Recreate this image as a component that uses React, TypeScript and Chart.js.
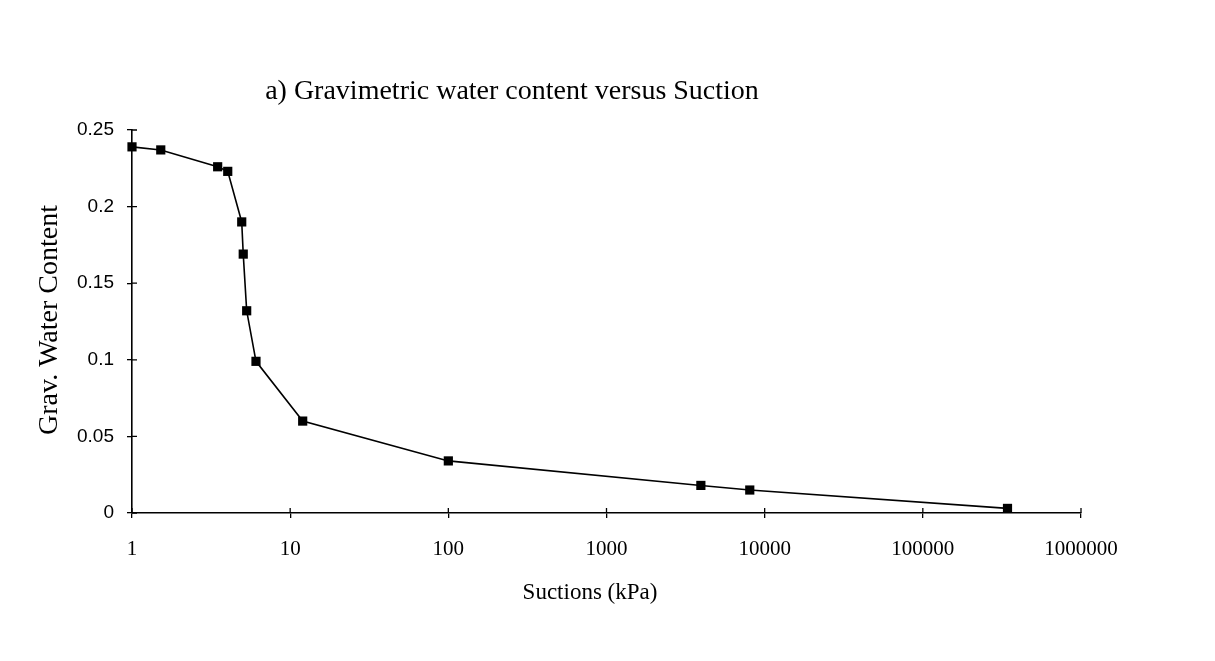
import { useEffect, useRef } from "react";
import { Chart, registerables } from "chart.js";

Chart.register(...registerables);

// Data
const suctionKPa = [1, 1.52, 3.48, 4.03, 4.94, 5.05, 5.31, 6.08, 12, 100, 3950, 8050, 343000];
const gravWaterContent = [0.239, 0.237, 0.226, 0.223, 0.19, 0.169, 0.132, 0.099, 0.06, 0.034, 0.018, 0.015, 0.003];
const xTickValues = [1, 10, 100, 1000, 10000, 100000, 1000000];
const yTickValues = [0, 0.05, 0.1, 0.15, 0.2, 0.25];
const yTickLabels = ["0", "0.05", "0.1", "0.15", "0.2", "0.25"];

const chartTitle = "a) Gravimetric water content versus Suction";
const xTitle = "Suctions (kPa)";
const yTitle = "Grav. Water Content";

const SERIF = "'Liberation Serif', 'Times New Roman', serif";
const SANS = "'Liberation Sans', Arial, sans-serif";

const decorPlugin = {
  id: "decor",
  afterDraw(chart: any) {
    const { ctx, chartArea, scales } = chart;
    ctx.save();
    // inner halves of tick marks
    ctx.strokeStyle = "#000";
    ctx.lineWidth = 1.3;
    ctx.beginPath();
    for (const v of yTickValues) {
      const y = scales.y.getPixelForValue(v);
      ctx.moveTo(chartArea.left, y);
      ctx.lineTo(chartArea.left + 5, y);
    }
    for (const v of xTickValues) {
      const x = scales.x.getPixelForValue(v);
      ctx.moveTo(x, chartArea.bottom);
      ctx.lineTo(x, chartArea.bottom - 5);
    }
    ctx.stroke();

    ctx.fillStyle = "#000";
    ctx.textAlign = "center";
    ctx.textBaseline = "alphabetic";
    ctx.font = `28px ${SERIF}`;
    ctx.fillText(chartTitle, 512, 99);
    ctx.font = `23px ${SERIF}`;
    ctx.fillText(xTitle, 590, 599);
    ctx.translate(57, 320);
    ctx.rotate(-Math.PI / 2);
    ctx.font = `28px ${SERIF}`;
    ctx.fillText(yTitle, 0, 0);
    ctx.restore();
  },
};

export default function App() {
  const ref = useRef<HTMLCanvasElement>(null);

  useEffect(() => {
    const points = suctionKPa.map((x, i) => ({ x, y: gravWaterContent[i] }));
    const chart = new Chart(ref.current as HTMLCanvasElement, {
      type: "scatter",
      data: {
        datasets: [
          {
            data: points,
            showLine: true,
            clip: false,
            borderColor: "#000",
            borderWidth: 1.6,
            backgroundColor: "#000",
            pointStyle: "rect",
            pointRadius: 6.5,
            pointBorderWidth: 0,
            pointBackgroundColor: "#000",
            tension: 0,
          },
        ],
      },
      options: {
        animation: false,
        responsive: false,
        maintainAspectRatio: false,
        layout: { padding: { top: 130, right: 134, bottom: 0, left: 0 } },
        plugins: {
          legend: { display: false },
          title: { display: false },
          tooltip: { enabled: false },
        },
        scales: {
          x: {
            type: "logarithmic",
            min: 1,
            max: 1000000,
            afterBuildTicks: (scale: any) => {
              scale.ticks = xTickValues.map((v) => ({ value: v, major: true }));
            },
            afterFit: (scale: any) => {
              scale.height = 661 - 513;
            },
            ticks: {
              autoSkip: false,
              maxRotation: 0,
              padding: 19,
              color: "#000",
              font: { family: SERIF, size: 21 },
              callback: (v: any) => String(Number(v)),
            },
            grid: { drawOnChartArea: false, drawTicks: true, tickLength: 5, color: "#000", lineWidth: 1.3 },
            border: { display: true, color: "#000", width: 1.6 },
          },
          y: {
            type: "linear",
            min: 0,
            max: 0.25,
            afterBuildTicks: (scale: any) => {
              scale.ticks = yTickValues.map((v) => ({ value: v }));
            },
            afterFit: (scale: any) => {
              scale.width = 132;
            },
            ticks: {
              autoSkip: false,
              padding: 13,
              color: "#000",
              font: { family: SANS, size: 19 },
              callback: (v: any) => {
                const i = yTickValues.findIndex((t) => Math.abs(t - Number(v)) < 1e-9);
                return i >= 0 ? yTickLabels[i] : "";
              },
            },
            grid: { drawOnChartArea: false, drawTicks: true, tickLength: 5, color: "#000", lineWidth: 1.3 },
            border: { display: true, color: "#000", width: 1.6 },
          },
        },
      },
      plugins: [decorPlugin],
    });
    return () => chart.destroy();
  }, []);

  return (
    <div style={{ position: "absolute", left: 0, top: 0, width: 1215, height: 661, background: "#fff" }}>
      <canvas ref={ref} width={1215} height={661} style={{ width: 1215, height: 661, display: "block" }} />
    </div>
  );
}
